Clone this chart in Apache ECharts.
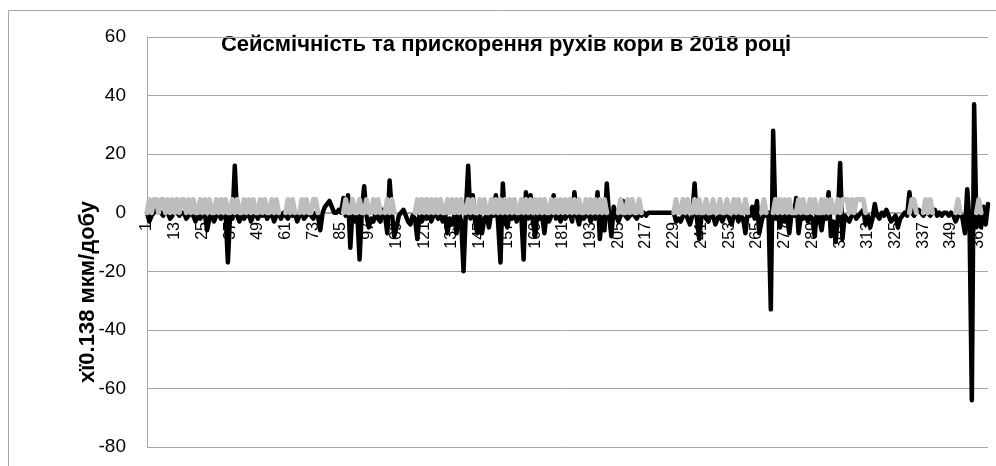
<!DOCTYPE html>
<html>
<head>
<meta charset="utf-8">
<script src="https://cdn.jsdelivr.net/npm/echarts@6/dist/echarts.min.js"></script>
<style>html,body{margin:0;padding:0;background:#fff}#c{width:996px;height:466px}</style>
</head>
<body>
<div id="c"></div>
<script>
// categories: days 1..365
const days = [];
for (let d = 1; d <= 365; d++) days.push(String(d));

// y-axis tick values
const yTicks = [-80, -60, -40, -20, 0, 20, 40, 60];

const chartTitle = 'Сейсмічність та прискорення рухів кори в 2018 році';
const yAxisTitle = 'хї0.138 мкм/добу';
const seriesNames = ['Прискорення рухів кори', 'Сейсмічність'];

// acceleration of crust movements (black line)
const acceleration = [
  0,-3,-1,0,1,1,0,-1,1,0,-2,-1,
  1,0,-1,0,0,-2,-1,0,-1,-3,0,-2,
  -1,0,-6,-2,0,-3,-1,0,-2,-1,0,-17,
  0,-2,16,-1,-3,0,-2,-1,0,-3,-1,0,
  -2,0,-1,0,-2,-1,0,-3,-1,0,-2,0,
  -1,-2,0,-1,0,-3,-1,0,-2,-1,0,-1,
  -2,0,-1,-6,0,2,3,4,2,0,0,1,
  0,5,-1,6,-12,2,-3,0,-16,1,9,-1,
  -5,-2,-3,0,-2,-3,1,-1,-7,11,0,-8,
  -5,-1,0,1,-1,-3,-4,-1,-2,-9,0,-3,
  -1,-2,0,-3,-1,0,-2,-1,-3,0,-7,-2,
  -4,-1,-7,0,-3,-20,0,16,-2,6,-3,-7,
  0,-7,-2,-1,-5,0,-1,6,-4,-17,10,-3,
  -5,0,-2,1,-3,0,-1,-16,7,-2,6,-3,
  -8,0,-2,-1,-7,0,-3,-1,6,-2,0,-3,
  0,-2,-1,0,-3,7,-1,-4,0,-2,-1,0,
  -3,-1,-2,7,-9,-1,-6,10,-1,-8,2,-1,
  -3,-1,4,-1,-2,-1,0,-1,-2,0,-1,0,
  -1,0,0,0,0,0,0,0,0,0,0,0,
  0,-3,-2,-3,-1,0,-2,-4,-1,10,-2,-9,
  -1,0,-2,-3,0,-1,-4,-2,0,-3,-1,0,
  -2,-4,-1,0,-3,-1,-2,-7,0,-1,2,-2,
  4,-7,-3,0,-1,0,-33,28,-2,0,-5,1,
  -3,-1,-7,0,-1,5,-7,-1,-2,0,-3,-1,
  -2,-8,1,-2,-6,0,-2,7,-8,-3,-10,-2,
  17,-9,-1,-2,-3,-1,0,-2,-1,0,1,-4,
  -1,-5,-2,3,-1,-2,0,-1,1,-1,-3,-2,
  -1,-5,-2,-1,0,-1,7,0,-1,0,1,0,
  -1,0,0,-1,0,1,-1,0,-1,0,0,-1,
  0,-1,-3,-1,0,-2,-7,8,-3,-64,37,-5,
  3,-5,2,-4,3
];

// seismicity (grey line); null = no data (gap)
const seismicity = [
  0,4.5,0,4.5,4.5,0,4.5,4.5,0,4.5,0,4.5,
  0,4.5,0,4.5,4.5,0,4.5,0,4.5,0,0,4.5,
  0,4.5,0,4.5,0,0,4.5,0,4.5,0,4.5,0,
  0,4.5,0,4.5,0,0,4.5,0,4.5,0,4.5,0,
  0,4.5,0,4.5,0,0,4.5,0,4.5,0,null,null,
  0,4.5,0,4.5,0,null,0,4.5,0,4.5,0,0,
  4.5,4.5,0,null,null,null,null,null,null,null,null,null,
  null,0,4.5,0,0,4.5,0,0,4.5,0,0,4.5,
  0,0,4.5,0,4.5,0,null,0,4.5,0,4.5,0,
  null,null,null,null,null,null,null,null,0,4.5,0,4.5,
  0,4.5,0,4.5,0,4.5,0,4.5,0,0,4.5,0,
  4.5,0,4.5,0,4.5,0,0,4.5,0,4.5,0,0,
  4.5,0,4.5,0,0,4.5,0,4.5,0,4.5,0,4.5,
  0,4.5,0,4.5,0,0,4.5,0,4.5,0,4.5,0,
  4.5,0,4.5,0,4.5,0,0,4.5,0,4.5,0,4.5,
  0,4.5,0,4.5,0,4.5,0,4.5,0,0,4.5,0,
  4.5,0,4.5,0,4.5,0,4.5,0,null,null,null,null,
  0,4.5,0,0,4.5,0,4.5,0,0,4.5,0,null,
  null,null,null,null,null,null,null,null,null,null,null,null,
  0,4.5,0,0,4.5,0,4.5,0,0,4.5,0,4.5,
  0,0,4.5,0,0,4.5,0,0,4.5,0,0,4.5,
  0,0,4.5,0,4.5,0,0,4.5,0,null,null,null,
  null,null,0,4.5,0,null,null,0,4.5,0,4.5,0,
  4.5,0,4.5,0,0,0,4.5,0,4.5,0,0,4.5,
  0,4.5,0,0,4.5,0,4.5,0,4.5,0,0,4.5,
  0,4.5,4.5,4.5,0,4.5,0,4.5,4.5,4.5,4.5,0,
  null,null,null,null,null,null,null,null,null,null,null,null,
  null,null,null,null,null,null,0,4.5,4.5,0,null,null,
  0,4.5,0,4.5,0,null,null,null,null,null,null,null,
  null,null,0,4.5,0,null,null,null,null,null,null,0,
  4.5,0,null,null,null
];

const chart = echarts.init(document.getElementById('c'), null, {renderer: 'canvas'});
const FONT = '"Liberation Sans", Arial, sans-serif';
chart.setOption({
  animation: false,
  backgroundColor: '#ffffff',
  grid: {left: 147, right: 8, top: 37, bottom: 19, containLabel: false, outerBoundsMode: 'none'},
  xAxis: {
    type: 'category',
    data: days,
    boundaryGap: false,
    offset: -234,
    axisLine: {onZero: false, lineStyle: {color: '#a6a6a6', width: 1}},
    axisTick: {show: false},
    axisLabel: {interval: 11, rotate: 90, fontSize: 16, fontFamily: FONT, color: '#000', margin: 9},
    splitLine: {show: false}
  },
  yAxis: {
    type: 'value',
    min: yTicks[0],
    max: yTicks[yTicks.length - 1],
    interval: 20,
    axisLine: {show: true, lineStyle: {color: '#a6a6a6', width: 1}},
    axisTick: {show: false},
    axisLabel: {fontSize: 19, fontFamily: FONT, color: '#000', margin: 21},
    splitLine: {show: true, lineStyle: {color: '#a6a6a6', width: 1}}
  },
  series: [
    {
      name: seriesNames[0], type: 'line', data: acceleration, symbol: 'none',
      lineStyle: {color: '#000000', width: 4.5, join: 'round', cap: 'round'}, z: 2
    },
    {
      name: seriesNames[1], type: 'line', data: seismicity, symbol: 'none', connectNulls: false,
      lineStyle: {color: '#bdbdbd', width: 5, join: 'round', cap: 'round'}, z: 3
    }
  ],
  graphic: [
    {type: 'rect', silent: true, shape: {x: 8.5, y: 10.5, width: 1000, height: 500},
     style: {fill: 'none', stroke: '#a6a6a6', lineWidth: 1}, z: -1},
    {type: 'text', x: 506, y: 45, style: {text: chartTitle, font: 'bold 22px ' + FONT,
     fill: '#000', textAlign: 'center', textVerticalAlign: 'middle'}},
    {type: 'text', x: 88, y: 292, rotation: Math.PI / 2, style: {text: yAxisTitle,
     font: 'bold 22px ' + FONT, fill: '#000', textAlign: 'center', textVerticalAlign: 'middle'}}
  ]
});
</script>
</body>
</html>
